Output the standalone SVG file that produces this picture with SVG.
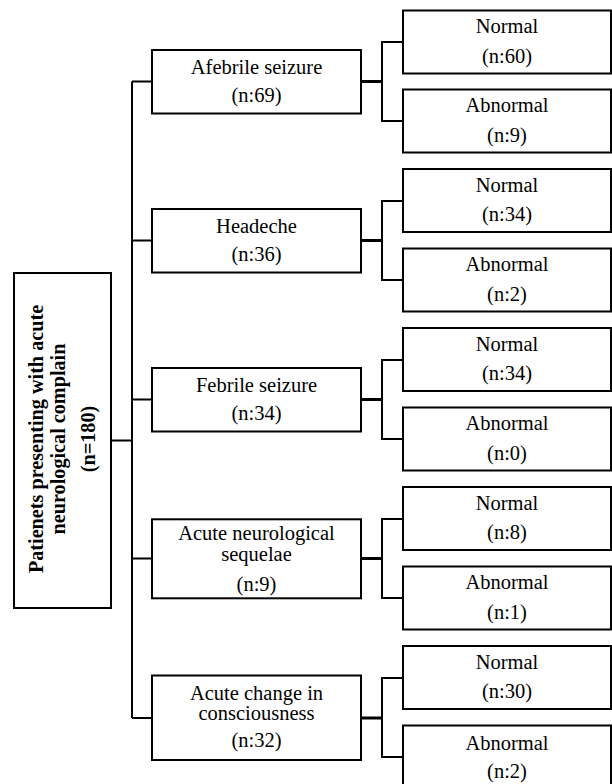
<svg xmlns="http://www.w3.org/2000/svg" width="612" height="784" viewBox="0 0 612 784">
<style>
.box{fill:#fff;stroke:#000;stroke-width:2}
.con{fill:none;stroke:#000;stroke-width:2}
.thick{fill:none;stroke:#000;stroke-width:3}
text{font-family:'Liberation Serif','DejaVu Serif',serif;font-size:20.5px;fill:#000;text-anchor:middle}
.b{font-weight:bold;font-size:20.2px}
</style>
<rect width="612" height="784" fill="#fff"/>
<g id="connectors">
<path class="con" d="M111 440.5H132M132 81.5V718"/>
<path class="con" d="M132 81.5H152M132 240.5H152M132 399.5H152M132 558.5H152M132 718H152"/>
<path class="thick" d="M361 81.5H382M361 240.5H382M361 399.5H382M361 558.5H382M361 718H382"/>
<path class="con" d="M403 42H382V121H403M403 201H382V280H403M403 360H382V439H403M403 519H382V598H403M403 678H382V757H403"/>
</g>
<g id="root">
<rect class="box" x="14" y="273" width="97" height="335"/>
<g transform="translate(0,439) rotate(-90)">
<text class="b" x="0" y="43">Patienets presenting with acute</text>
<text class="b" x="0" y="65">neurological complain</text>
<text class="b" x="0" y="95">(n=180)</text>
</g>
</g>
<g id="afebrile">
<rect class="box" x="152" y="50" width="209" height="63.5"/>
<text x="256.5" y="74">Afebrile seizure</text>
<text x="256.5" y="101.5">(n:69)</text>
</g>
<g id="headeche">
<rect class="box" x="152" y="209" width="209" height="63.5"/>
<text x="256.5" y="233">Headeche</text>
<text x="256.5" y="260.5">(n:36)</text>
</g>
<g id="febrile">
<rect class="box" x="152" y="368" width="209" height="63.5"/>
<text x="256.5" y="392">Febrile seizure</text>
<text x="256.5" y="419.5">(n:34)</text>
</g>
<g id="ans">
<rect class="box" x="152" y="519.3" width="209" height="79"/>
<text x="256.5" y="539.5">Acute neurological</text>
<text x="256.5" y="560.5">sequelae</text>
<text x="256.5" y="590.5">(n:9)</text>
</g>
<g id="acc">
<rect class="box" x="152" y="675.5" width="209" height="84.5"/>
<text x="256.5" y="699.5">Acute change in</text>
<text x="256.5" y="720">consciousness</text>
<text x="256.5" y="746.5">(n:32)</text>
</g>
<g id="n1"><rect class="box" x="403" y="10.5" width="208" height="63"/><text x="507" y="33">Normal</text><text x="507" y="62.5">(n:60)</text></g>
<g id="a1"><rect class="box" x="403" y="89.5" width="208" height="63"/><text x="507" y="112">Abnormal</text><text x="507" y="141.5">(n:9)</text></g>
<g id="n2"><rect class="box" x="403" y="169" width="208" height="63"/><text x="507" y="191.5">Normal</text><text x="507" y="221">(n:34)</text></g>
<g id="a2"><rect class="box" x="403" y="248.5" width="208" height="63"/><text x="507" y="271">Abnormal</text><text x="507" y="300.5">(n:2)</text></g>
<g id="n3"><rect class="box" x="403" y="328" width="208" height="63"/><text x="507" y="350.5">Normal</text><text x="507" y="380">(n:34)</text></g>
<g id="a3"><rect class="box" x="403" y="407.5" width="208" height="63"/><text x="507" y="430">Abnormal</text><text x="507" y="459.5">(n:0)</text></g>
<g id="n4"><rect class="box" x="403" y="487" width="208" height="63"/><text x="507" y="509.5">Normal</text><text x="507" y="539">(n:8)</text></g>
<g id="a4"><rect class="box" x="403" y="566.5" width="208" height="63"/><text x="507" y="589">Abnormal</text><text x="507" y="618.5">(n:1)</text></g>
<g id="n5"><rect class="box" x="403" y="646" width="208" height="63"/><text x="507" y="668.5">Normal</text><text x="507" y="698">(n:30)</text></g>
<g id="a5"><rect class="box" x="403" y="725.5" width="208" height="64"/><text x="507" y="750">Abnormal</text><text x="507" y="777.5">(n:2)</text></g>
</svg>
